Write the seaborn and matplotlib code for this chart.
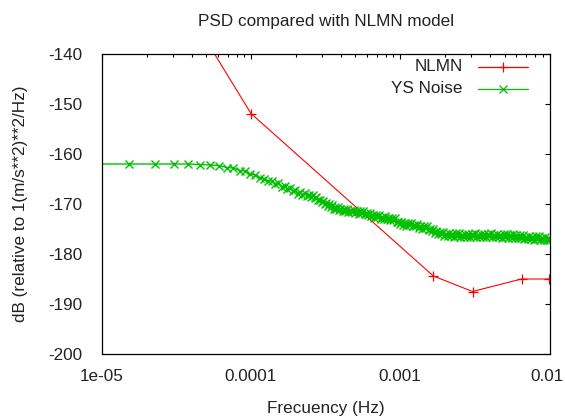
import numpy as np
import pandas as pd
import matplotlib
matplotlib.use("Agg")
import matplotlib.pyplot as plt
import matplotlib.transforms as mtransforms
import seaborn as sns
from matplotlib.lines import Line2D
from matplotlib.ticker import FixedLocator, FuncFormatter, LogLocator, NullFormatter

# ---------------- data ----------------
nlmn_freq_hz = [1e-05, 1e-04, 0.001667, 0.003049, 0.006494, 0.009901]
nlmn_db = [-103.1, -151.9, -184.4, -187.5, -185.0, -185.0]

# YS noise: FFT bin index (bin width 1/131072 Hz) and level in dB
BIN_HZ = 1.0 / 131072.0
ys_bin = [1, 2, 3, 4, 5, 6, 7, 8, 9, 10, 11, 12, 13, 14, 15, 16, 17, 18, 19, 20,
          21, 22, 23, 24, 25, 26, 27, 28, 29,
          30, 31, 32, 33, 34, 35, 36, 37, 38, 39, 40, 41, 42, 43, 44, 45, 46, 47, 48, 49,
          50, 51, 52, 54, 55, 56, 58, 59, 61, 62, 64, 65, 67, 69, 70, 72, 74, 76, 78, 80,
          82, 84, 86, 88, 90, 92, 95, 97, 99, 102, 104, 107, 110, 112, 115, 118, 121, 124,
          127, 130, 133, 137, 140, 144, 147, 151, 155, 159, 163, 167, 171, 175, 179, 184,
          188, 193, 198, 203, 208, 213, 218, 224, 229, 235, 241, 247, 253, 259, 266, 272,
          279, 286, 293, 301, 308, 316, 324, 332, 340, 349, 357, 366, 375, 385, 394, 404,
          414, 425, 435, 446, 457, 469, 480, 492, 505, 517, 530, 543, 557, 571, 585, 600,
          615, 630, 646, 662, 679, 696, 713, 731, 749, 768, 787, 807, 827, 848, 869, 891,
          913, 936, 959, 983, 1008, 1033, 1059, 1085, 1112, 1140, 1169, 1198, 1228, 1259,
          1290, 1310]
ys_db = [-162.0, -162.0, -162.0, -162.0, -162.0, -162.1, -162.2, -162.3, -162.7, -162.8,
         -163.3, -163.4, -164.0, -164.2, -164.8, -164.9, -165.4, -165.3, -165.9, -165.8,
         -166.5, -166.3, -167.0, -166.8, -167.4, -167.2, -167.9, -167.6, -168.2,
         -167.8, -168.3, -168.1, -168.6, -168.2, -168.7, -168.5, -169.2, -169.1, -169.6,
         -169.4, -170.0, -169.8, -170.4, -170.0, -170.5, -170.2, -170.9, -170.6, -171.0,
         -170.6, -171.2, -170.9, -171.4, -170.9, -171.3, -170.9, -171.6, -171.3, -171.6,
         -171.2, -171.8, -171.4, -171.9, -171.3, -171.7, -171.3, -172.0, -171.8, -172.1,
         -171.8, -172.4, -172.1, -172.7, -172.1, -172.5, -172.2, -172.9, -172.6, -172.9,
         -172.4, -173.0, -172.7, -173.2, -172.7, -173.1, -172.7, -173.6,
         -173.5, -173.9, -173.5, -174.1, -173.7, -174.3, -173.7, -174.1, -173.7, -174.4,
         -174.1, -174.4, -174.0, -174.7, -174.3, -174.9,
         -174.3, -174.7, -174.4, -175.1, -174.9, -175.3, -175.0, -175.7, -175.4, -176.0,
         -175.5, -176.0, -175.5, -176.3, -175.9, -176.3,
         -175.7, -176.4, -175.9, -176.5, -175.8, -176.3, -175.8, -176.5, -176.1, -176.5,
         -175.9, -176.5, -176.0, -176.6, -175.9, -176.4,
         -175.8, -176.6, -176.1, -176.5, -175.9, -176.5, -176.0, -176.6, -175.9, -176.4,
         -175.8, -176.6, -176.2, -176.6, -176.0, -176.6,
         -176.1, -176.7, -176.0, -176.5, -175.9, -176.7, -176.2, -176.7, -176.0, -176.7,
         -176.2, -176.8, -176.2, -176.7, -176.1, -176.9,
         -176.5, -176.9, -176.3, -177.0, -176.5, -177.1, -176.4, -176.9, -176.4, -177.2,
         -176.7, -177.1, -176.5, -177.2,
         -176.7, -177.2]

x_ticks = [1e-05, 1e-04, 1e-03, 1e-02]
y_ticks = [-200, -190, -180, -170, -160, -150, -140]

nlmn_df = pd.DataFrame({"freq": nlmn_freq_hz, "db": nlmn_db})
ys_df = pd.DataFrame({"freq": [k * BIN_HZ for k in ys_bin], "db": ys_db})

# ---------------- style ----------------
sns.set_theme(style="white")
plt.rcParams["font.family"] = ["Liberation Sans", "DejaVu Sans"]
plt.rcParams["axes.unicode_minus"] = False
FS = 12.3

W, H = 565, 417
fig = plt.figure(figsize=(W / 100, H / 100), dpi=100)
L, R, T, B = 101.7, 549.5, 54.0, 354.0
ax = fig.add_axes([L / W, 1 - B / H, (R - L) / W, (B - T) / H])

RED = "#ff0000"
GREEN = "#00c000"

sns.lineplot(data=nlmn_df, x="freq", y="db", ax=ax, color=RED, lw=0.8,
             marker="+", markersize=7, markeredgecolor=RED, markeredgewidth=0.9,
             estimator=None, sort=False)
sns.lineplot(data=ys_df, x="freq", y="db", ax=ax, color=GREEN, lw=1.0,
             marker="x", markersize=6.2, markeredgecolor=GREEN, markeredgewidth=1.0,
             estimator=None, sort=False)

ax.set_xscale("log")
ax.set_xlim(1e-05, 1e-02)
ax.set_ylim(-200, -140)
ax.xaxis.set_major_locator(FixedLocator(x_ticks))
ax.xaxis.set_major_formatter(FuncFormatter(lambda v, p: "%g" % v))
ax.xaxis.set_minor_locator(LogLocator(base=10, subs=np.arange(2, 10)))
ax.xaxis.set_minor_formatter(NullFormatter())
ax.set_yticks(y_ticks)
ax.yaxis.set_major_formatter(FuncFormatter(lambda v, p: "%d" % v))

ax.tick_params(axis="both", which="both", direction="in", top=True, right=True,
               colors="black", labelsize=FS, labelcolor="#222222")
ax.tick_params(axis="both", which="major", length=3.5, width=0.8)
ax.tick_params(axis="both", which="minor", length=1.8, width=0.8)
ax.tick_params(axis="x", which="major", pad=11)
ax.tick_params(axis="y", which="major", pad=14)
for s in ax.spines.values():
    s.set_color("black")
    s.set_linewidth(0.9)
ax.set_xlabel("")
ax.set_ylabel("")

# keep the last x tick label inside the canvas (as in the reference)
fig.canvas.draw()
last = ax.get_xticklabels()[-1]
last.set_transform(last.get_transform() +
                   mtransforms.ScaledTranslation(-2.5 / 100, 0, fig.dpi_scale_trans))

# titles / labels
cx = (L + R) / 2 / W
fig.text(cx, 1 - 21.5 / H, "PSD compared with NLMN model", ha="center", va="center",
         fontsize=FS, color="#222222")
fig.text(cx, 1 - 409 / H, "Frecuency (Hz)", ha="center", va="center",
         fontsize=FS, color="#222222")
fig.text(20.5 / W, 1 - ((T + B) / 2) / H, "dB (relative to 1(m/s**2)**2/Hz)",
         ha="center", va="center", rotation=90, fontsize=FS, color="#222222")

# legend (gnuplot style: right-justified text, sample to the right)
for label, yy, col, mk, ms in [("NLMN", 0.957, RED, "+", 7), ("YS Noise", 0.885, GREEN, "x", 5.5)]:
    ax.text(0.806, yy, label, transform=ax.transAxes, ha="right", va="center",
            fontsize=FS, color="#222222")
    ax.add_line(Line2D([0.841, 0.953], [yy, yy], transform=ax.transAxes,
                       color=col, lw=0.9))
    ax.add_line(Line2D([0.897], [yy], transform=ax.transAxes, color=col,
                       marker=mk, markersize=ms, markeredgewidth=0.9, lw=0))

fig.savefig("out.png", dpi=100)
